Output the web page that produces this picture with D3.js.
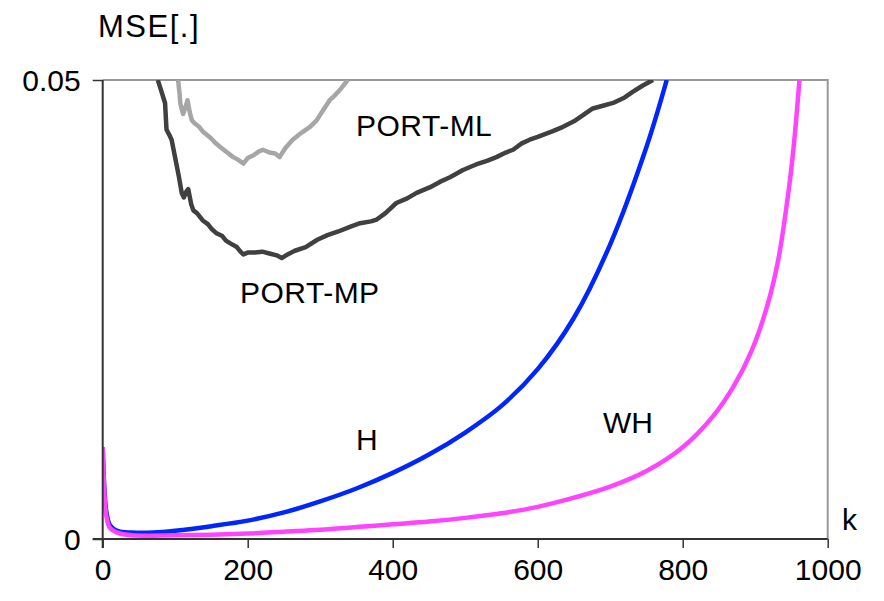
<!DOCTYPE html>
<html><head><meta charset="utf-8">
<script src="https://cdn.jsdelivr.net/npm/d3@7"></script>
<style>body{margin:0;background:#fff}svg text{font-family:"Liberation Sans",Arial,sans-serif;fill:#000}</style>
</head><body><svg id="c" width="884" height="601"></svg>
<script>
const xTicks = [0, 200, 400, 600, 800, 1000];
const yTicks = [0, 0.05];
const yTickLabels = ["0", "0.05"];

const hK = [0,2,5,10,20,40,70,100,150,200,250,300,350,400,450,500,550,600,650,700,750,778];
const hV = [0.0100,0.0060,0.0030,0.0015,0.0009,0.0007,0.0007,0.0009,0.0014,0.0020,0.0029,0.0041,0.0055,0.0072,0.0092,0.0116,0.0145,0.0185,0.0241,0.0321,0.0427,0.0500];

const whK = [0,2,5,10,20,40,100,200,250,300,350,400,450,500,550,600,650,700,750,800,840,870,895,917,932,947,954,961];
const whV = [0.0100,0.0055,0.0025,0.0012,0.0007,0.0004,0.0004,0.0006,0.0008,0.0010,0.0013,0.0016,0.0019,0.0023,0.0028,0.0035,0.0045,0.0057,0.0074,0.0100,0.0132,0.0166,0.0205,0.0255,0.0305,0.0385,0.0435,0.0500];

const mpK = [76,80,86,88,92,95,100,105,109,112,115,118,122,125,130,138,145,150,157,165,170,176,185,190,194,200,210,220,230,240,247,255,265,280,296,310,325,341,355,370,378,390,405,420,433,451,465,479,497,515,530,543,556,566,578,589,600,620,635,650,665,676,690,704,720,731,745,759];
const mpV = [0.0500,0.0490,0.0475,0.0446,0.0440,0.0435,0.0415,0.0395,0.0377,0.0372,0.0378,0.0381,0.0365,0.0358,0.0355,0.0347,0.0343,0.0338,0.0333,0.0330,0.0325,0.0322,0.0318,0.0313,0.0310,0.0312,0.0312,0.0313,0.0311,0.0309,0.0306,0.0310,0.0314,0.0318,0.0326,0.0331,0.0335,0.0340,0.0344,0.0346,0.0348,0.0355,0.0366,0.0371,0.0377,0.0383,0.0389,0.0394,0.0402,0.0408,0.0412,0.0416,0.0421,0.0424,0.0431,0.0435,0.0438,0.0444,0.0449,0.0455,0.0463,0.0469,0.0472,0.0475,0.0481,0.0487,0.0494,0.0500];

const mlK = [104,106,107,109,111,114,117,120,123,128,133,138,144,150,156,162,170,180,187,194,200,208,215,221,230,238,244,252,262,275,286,295,304,313,320,328,338];
const mlV = [0.0500,0.0485,0.0475,0.0468,0.0463,0.0470,0.0478,0.0465,0.0456,0.0452,0.0449,0.0444,0.0440,0.0436,0.0431,0.0427,0.0422,0.0416,0.0413,0.0409,0.0415,0.0418,0.0422,0.0424,0.0421,0.0420,0.0416,0.0426,0.0435,0.0443,0.0449,0.0456,0.0467,0.0478,0.0483,0.0490,0.0500];

const svg = d3.select("#c");
const x = d3.scaleLinear().domain([0, 1000]).range([102.7, 827.7]);
const y = d3.scaleLinear().domain([0, 0.05]).range([539, 80]);

svg.append("defs").append("clipPath").attr("id","clip").append("rect")
  .attr("x", x(0)).attr("y", y(0.05)).attr("width", x(1000)-x(0)).attr("height", y(0)-y(0.05));

// plot border (top/right)
svg.append("path").attr("d", `M${x(0)},${y(0.05)}H${x(1000)}V${y(0)}`)
  .attr("fill","none").attr("stroke","#999").attr("stroke-width",2);

const zip = (ks, vs) => ks.map((k,i)=>[k, vs[i]]);
const g = svg.append("g").attr("clip-path","url(#clip)");
const lineLin = d3.line().x(d=>x(d[0])).y(d=>y(d[1]));
const lineSm = d3.line().x(d=>x(d[0])).y(d=>y(d[1])).curve(d3.curveCatmullRom.alpha(0.5));

g.append("path").datum(zip(mlK, mlV)).attr("d", lineLin).attr("fill","none").attr("stroke","#a6a6a6").attr("stroke-width",4.5).attr("stroke-linejoin","round");
g.append("path").datum(zip(mpK, mpV)).attr("d", lineLin).attr("fill","none").attr("stroke","#404040").attr("stroke-width",4.5).attr("stroke-linejoin","round");
g.append("path").datum(zip(hK, hV)).attr("d", lineSm).attr("fill","none").attr("stroke","#0026ff").attr("stroke-width",4.5);
g.append("path").datum(zip(whK, whV)).attr("d", lineSm).attr("fill","none").attr("stroke","#ff44ff").attr("stroke-width",4.5);

// axes
const xAxis = d3.axisBottom(x).tickValues(xTicks).tickSize(9).tickFormat(d3.format("d"));
const xa = svg.append("g").attr("transform",`translate(0,${y(0)})`).call(xAxis);
xa.select(".domain").attr("stroke","#333").attr("stroke-width",2).attr("d", `M${x(0)-10},0H${x(1000)}`);
xa.selectAll(".tick line").attr("stroke","#333").attr("stroke-width",1.5);
xa.selectAll(".tick text").attr("font-size",30).attr("y",20).attr("dy","0.71em").attr("font-family","Liberation Sans, Arial, sans-serif").attr("fill","#000");

const yAxis = d3.axisLeft(y).tickValues(yTicks).tickSize(10).tickFormat((d,i)=>yTickLabels[i]);
const ya = svg.append("g").attr("transform",`translate(${x(0)},0)`).call(yAxis);
ya.select(".domain").attr("stroke","#333").attr("stroke-width",2).attr("d", `M0,${y(0.05)}V${y(0)+9}`);
ya.selectAll(".tick line").attr("stroke","#333").attr("stroke-width",1.5);
ya.selectAll(".tick text").attr("font-size",30).attr("x",-22).attr("dy","0.36em").attr("font-family","Liberation Sans, Arial, sans-serif").attr("fill","#000");

// labels
const labels = [
  ["MSE[.]", 98, 37, 31, 1.5],
  ["PORT-ML", 356, 136, 30, 0.5],
  ["PORT-MP", 240, 303, 30, 0.5],
  ["H", 356, 450, 30, 0],
  ["WH", 603, 433, 30, 0],
  ["k", 842, 530, 30, 0]
];
svg.selectAll("text.lbl").data(labels).enter().append("text").attr("class","lbl")
  .attr("x", d=>d[1]).attr("y", d=>d[2]).attr("font-size", d=>d[3]).attr("letter-spacing", d=>d[4]).text(d=>d[0]);
</script></body></html>
